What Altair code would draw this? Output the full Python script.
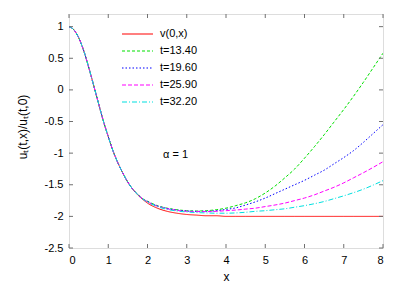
import altair as alt
import pandas as pd

# ---- data ----
X = [0, 0.125, 0.25, 0.375, 0.5, 0.625, 0.75, 0.875, 1.0, 1.125, 1.25, 1.375, 1.5,
     1.625, 1.75, 1.875, 2.0, 2.25, 2.5, 2.75, 3.0, 3.25, 3.5, 3.75, 4.0, 4.25, 4.5,
     4.75, 5.0, 5.25, 5.5, 5.75, 6.0, 6.25, 6.5, 6.75, 7.0, 7.25, 7.5, 7.75, 8.0]

V0 = [1.0, 0.95, 0.82, 0.62, 0.36, 0.08, -0.21, -0.49, -0.74, -0.97, -1.16, -1.32, -1.46,
      -1.57, -1.66, -1.73, -1.79, -1.87, -1.92, -1.95, -1.97, -1.98, -1.99, -1.99, -2.0,
      -2.0, -2.0, -2.0, -2.0, -2.0, -2.0, -2.0, -2.0, -2.0, -2.0, -2.0, -2.0, -2.0, -2.0,
      -2.0, -2.0]

T1340 = [1.0, 0.95, 0.82, 0.62, 0.36, 0.08, -0.21, -0.49, -0.74, -0.97, -1.16, -1.32, -1.46,
         -1.57, -1.65, -1.72, -1.76, -1.83, -1.87, -1.895, -1.91, -1.915, -1.91, -1.895, -1.87,
         -1.83, -1.785, -1.72, -1.63, -1.52, -1.39, -1.25, -1.08, -0.90, -0.71, -0.51, -0.31,
         -0.10, 0.12, 0.35, 0.58]

T1960 = [1.0, 0.95, 0.82, 0.62, 0.36, 0.08, -0.21, -0.49, -0.74, -0.97, -1.16, -1.32, -1.46,
         -1.57, -1.655, -1.72, -1.765, -1.835, -1.875, -1.90, -1.915, -1.92, -1.92, -1.91, -1.89,
         -1.865, -1.82, -1.77, -1.71, -1.64, -1.57, -1.50, -1.43, -1.35, -1.27, -1.17, -1.07,
         -0.96, -0.83, -0.69, -0.55]

T2590 = [1.0, 0.95, 0.82, 0.62, 0.36, 0.08, -0.21, -0.49, -0.74, -0.97, -1.16, -1.32, -1.46,
         -1.57, -1.655, -1.72, -1.77, -1.84, -1.88, -1.905, -1.92, -1.925, -1.925, -1.92, -1.91,
         -1.90, -1.885, -1.87, -1.845, -1.82, -1.79, -1.75, -1.71, -1.66, -1.60, -1.54, -1.47,
         -1.39, -1.31, -1.225, -1.135]

T3220 = [1.0, 0.95, 0.82, 0.62, 0.36, 0.08, -0.21, -0.49, -0.74, -0.97, -1.16, -1.32, -1.46,
         -1.57, -1.655, -1.725, -1.775, -1.845, -1.89, -1.915, -1.93, -1.94, -1.945, -1.95, -1.95,
         -1.945, -1.935, -1.92, -1.91, -1.895, -1.88, -1.855, -1.83, -1.80, -1.765, -1.72, -1.675,
         -1.625, -1.57, -1.505, -1.435]

SERIES = ["v(0,x)", "t=13.40", "t=19.60", "t=25.90", "t=32.20"]
VALUES = [V0, T1340, T1960, T2590, T3220]
COLORS = ["#ff0000", "#00e000", "#0000ff", "#ff00ff", "#00e0e0"]
DASHES = [[1, 0], [3, 2], [1.5, 2], [4, 2], [5, 2, 1, 2]]

XTICKS = [0, 1, 2, 3, 4, 5, 6, 7, 8]
YTICKS = [-2.5, -2, -1.5, -1, -0.5, 0, 0.5, 1]
ANNOT = ["α = 1"]

W, H = 314, 234
FONT = "Liberation Sans"
GRAY = "#707070"

xs = alt.Scale(domain=[0, 8], nice=False, zero=False)
ys = alt.Scale(domain=[-2.5, 1.2], nice=False, zero=False)

xaxis = alt.Axis(values=XTICKS, domain=False, ticks=False, tickSize=0, grid=False,
                 labelPadding=6, labelFont=FONT, labelFontSize=11, labelColor="black",
                 labelExpr="'' + datum.value",
                 title="x", titleFont=FONT, titleFontSize=12, titleFontWeight="normal",
                 titleColor="black", titleX=W / 2, titleY=28, titleBaseline="middle",
                 titleAlign="center")
yaxis = alt.Axis(values=YTICKS, domain=False, ticks=False, tickSize=0, grid=False,
                 labelPadding=6, labelFont=FONT, labelFontSize=11, labelColor="black",
                 labelExpr="'' + datum.value",
                 title="uₜ(t,x)/uₜ(t,0)", titleFont=FONT, titleFontSize=12,
                 titleFontWeight="normal", titleColor="black", titleX=-46.5, titleY=112.5,
                 titleBaseline="middle", titleAlign="center", titleAngle=270)

XE = alt.X("x:Q", scale=xs, axis=xaxis)
YE = alt.Y("y:Q", scale=ys, axis=yaxis)

layers = []
for name, vals, col, dash in zip(SERIES, VALUES, COLORS, DASHES):
    df = pd.DataFrame({"x": X, "y": vals})
    layers.append(alt.Chart(df).mark_line(strokeWidth=1, interpolate="monotone", clip=True)
                  .encode(x=XE, y=YE, color=alt.value(col), strokeDash=alt.value(dash)))

# inward ticks on all four sides
dfx = pd.DataFrame({"x": XTICKS})
dfy = pd.DataFrame({"y": YTICKS})
layers.append(alt.Chart(dfx).mark_rule(strokeWidth=1).encode(
    x=XE, y=alt.value(H), y2=alt.value(H - 4), color=alt.value(GRAY)))
layers.append(alt.Chart(dfx).mark_rule(strokeWidth=1).encode(
    x=XE, y=alt.value(0), y2=alt.value(4), color=alt.value(GRAY)))
layers.append(alt.Chart(dfy).mark_rule(strokeWidth=1).encode(
    y=YE, x=alt.value(0), x2=alt.value(4), color=alt.value(GRAY)))
layers.append(alt.Chart(dfy).mark_rule(strokeWidth=1).encode(
    y=YE, x=alt.value(W), x2=alt.value(W - 4), color=alt.value(GRAY)))

# manual legend (top-left inside the plot)
for i, (name, col, dash) in enumerate(zip(SERIES, COLORS, DASHES)):
    yy = 20 + 17 * i
    ldf = pd.DataFrame({"label": [name]})
    layers.append(alt.Chart(ldf).mark_rule(strokeWidth=1.2).encode(
        x=alt.value(53), x2=alt.value(84), y=alt.value(yy),
        color=alt.value(col), strokeDash=alt.value(dash)))
    layers.append(alt.Chart(ldf).mark_text(align="left", baseline="middle", font=FONT,
                                           fontSize=11).encode(
        x=alt.value(91), y=alt.value(yy), text="label:N", color=alt.value("black")))

adf = pd.DataFrame({"t": ANNOT})
layers.append(alt.Chart(adf).mark_text(align="left", baseline="middle", font=FONT,
                                       fontSize=11).encode(
    x=alt.value(94), y=alt.value(141), text="t:N", color=alt.value("black")))

chart = alt.layer(*layers).properties(
    width=W, height=H,
    autosize=alt.AutoSizeParams(type="none"),
    padding={"left": 61, "top": 6, "right": 12, "bottom": 38},
).configure_view(stroke=GRAY, strokeWidth=1).configure(background="white")

chart.save("out.html", embed_options={"renderer": "svg", "actions": False})
